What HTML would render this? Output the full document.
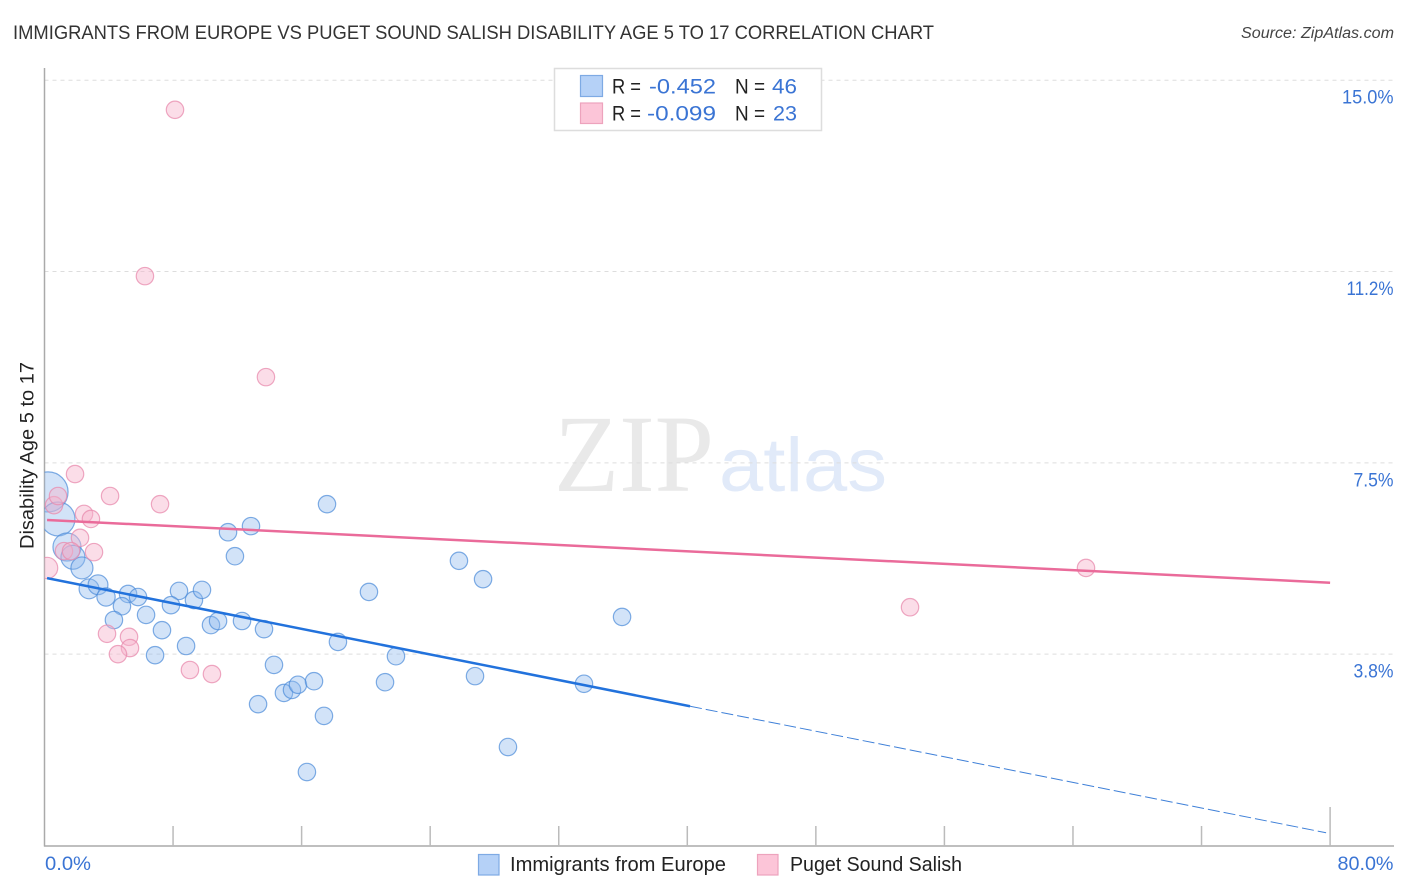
<!DOCTYPE html>
<html lang="en">
<head>
<meta charset="utf-8">
<title>Immigrants from Europe vs Puget Sound Salish Disability Age 5 to 17 Correlation Chart</title>
<style>
html,body{margin:0;padding:0;background:#fff;width:1406px;height:892px;overflow:hidden}
svg{display:block;font-family:"Liberation Sans",sans-serif}
</style>
</head>
<body>
<svg id="chart" width="1406" height="892" viewBox="0 0 1406 892" xmlns="http://www.w3.org/2000/svg">
  <defs><clipPath id="plot-clip"><rect x="44.5" y="60" width="1350" height="786"></rect></clipPath></defs>
  <text x="13" y="39" font-size="19.5" fill="#333" textLength="921" lengthAdjust="spacingAndGlyphs">IMMIGRANTS FROM EUROPE VS PUGET SOUND SALISH DISABILITY AGE 5 TO 17 CORRELATION CHART</text>
  <text x="1241" y="38" font-size="15.5" font-style="italic" fill="#444" textLength="153" lengthAdjust="spacingAndGlyphs">Source: ZipAtlas.com</text>
  <text x="554" y="491" font-family="'Liberation Serif',serif" font-size="110" fill="#e9e9e9" textLength="160" lengthAdjust="spacingAndGlyphs">ZIP</text>
  <text x="719" y="491" font-size="76" fill="#e1eaf9" textLength="168" lengthAdjust="spacingAndGlyphs">atlas</text>
  <g id="grid"></g>
  <g id="axes"></g>
  <g id="points" clip-path="url(#plot-clip)"></g>
  <g id="trends"></g>
  <text transform="translate(33.5 455.5) rotate(-90)" font-size="19" fill="#222" text-anchor="middle" textLength="187" lengthAdjust="spacingAndGlyphs">Disability Age 5 to 17</text>
  <g>
    <rect x="554.5" y="68.5" width="267" height="62" fill="#fff" stroke="#ddd" stroke-width="1.5"></rect>
    <rect x="580.5" y="75.5" width="22" height="21" fill="#b5d1f7" stroke="#7eaae4" stroke-width="1.2"></rect>
    <rect x="580.5" y="103" width="22" height="20.5" fill="#fcc5d8" stroke="#eda3bd" stroke-width="1.2"></rect>
    <g font-size="21" fill="#222">
      <text x="612" y="93.5" textLength="29" lengthAdjust="spacingAndGlyphs">R =</text>
      <text x="649" y="93.5" textLength="67" lengthAdjust="spacingAndGlyphs" fill="#3a74d4">-0.452</text>
      <text x="735" y="93.5" textLength="30" lengthAdjust="spacingAndGlyphs">N =</text>
      <text x="772" y="93.5" textLength="25" lengthAdjust="spacingAndGlyphs" fill="#3a74d4">46</text>
      <text x="612" y="120.5" textLength="29" lengthAdjust="spacingAndGlyphs">R =</text>
      <text x="647" y="120.5" textLength="69" lengthAdjust="spacingAndGlyphs" fill="#3a74d4">-0.099</text>
      <text x="735" y="120.5" textLength="30" lengthAdjust="spacingAndGlyphs">N =</text>
      <text x="773" y="120.5" textLength="24" lengthAdjust="spacingAndGlyphs" fill="#3a74d4">23</text>
    </g>
  </g>
  <g>
    <rect x="478.5" y="854.5" width="20.5" height="20.5" fill="#b5d1f7" stroke="#7eaae4" stroke-width="1.2"></rect>
    <text x="510" y="871" font-size="20" fill="#222" textLength="216" lengthAdjust="spacingAndGlyphs">Immigrants from Europe</text>
  </g>
  <g>
    <rect x="757.5" y="854.5" width="20.5" height="20.5" fill="#fcc5d8" stroke="#eda3bd" stroke-width="1.2"></rect>
    <text x="790" y="871" font-size="20" fill="#222" textLength="172" lengthAdjust="spacingAndGlyphs">Puget Sound Salish</text>
  </g>
</svg>
<script>
const yTickValues = [15, 11.25, 7.5, 3.75];
const yTickLabels = ["15.0%", "11.2%", "7.5%", "3.8%"];
const xTickValues = [0, 8, 16, 24, 32, 40, 48, 56, 64, 72, 80];
const xEndLabels = ["0.0%", "80.0%"];

const europeX = [0.22,0.84,1.40,1.77,2.33,2.77,3.33,3.83,5.20,4.82,5.82,4.32,6.32,7.31,6.88,8.37,7.87,9.30,9.80,8.81,10.36,10.80,12.29,13.66,11.42,12.85,11.85,14.28,13.29,14.90,15.40,15.77,16.77,17.39,16.33,18.26,17.58,20.19,21.87,21.19,25.79,27.29,26.79,28.84,35.94,33.57];
const europeY = [6.93,6.40,5.85,5.65,5.44,5.03,5.11,4.87,4.93,4.69,4.87,4.42,4.52,4.22,3.73,4.99,4.71,4.81,5.01,3.91,4.32,4.40,4.40,4.24,6.14,6.26,5.67,3.54,2.77,2.99,3.05,3.15,3.22,2.54,1.44,3.99,6.69,4.97,3.71,3.20,5.58,5.22,3.32,1.93,4.48,3.17];
const europeWeight = [5.3,3.8,2.6,1.9,1.6,1.3,1.3,1.1,1,1,1,1,1,1,1,1,1,1,1,1,1,1,1,1,1,1,1,1,1,1,1,1,1,1,1,1,1,1,1,1,1,1,1,1,1,1];

const salishX = [0.16,1.90,0.59,0.84,4.08,7.19,2.46,2.89,2.21,3.08,1.21,1.65,3.89,5.26,5.32,4.57,9.05,10.42,6.25,8.12,13.78,53.86,64.81];
const salishY = [5.44,7.28,6.67,6.85,6.85,6.69,6.50,6.40,6.03,5.75,5.77,5.77,4.15,4.09,3.87,3.75,3.44,3.36,11.16,14.42,9.18,4.67,5.44];
const salishWeight = [1.5,1,1,1,1,1,1,1,1,1,1,1,1,1,1,1,1,1,1,1,1,1,1];

const europeTrendX = [0.16, 40.17, 79.75];
const europeTrendY = [5.24, 2.73, 0.25];
const salishTrendX = [0.16, 80];
const salishTrendY = [6.38, 5.15];

const NS = "http://www.w3.org/2000/svg";
const xScale = v => 44.5 + v * 16.07;
const yScale = v => 845.5 - v * 51.02;
const radius = w => 8.7 * Math.sqrt(w);

function make(parent, tag, attrs, text) {
  const el = document.createElementNS(NS, tag);
  for (const k in attrs) el.setAttribute(k, attrs[k]);
  if (text !== undefined) el.textContent = text;
  parent.appendChild(el);
  return el;
}

function labelWidth(s) {
  let w = 0;
  for (const ch of s) {
    if (ch === "0") w += 13;
    else if (ch === "1") w += 8.5;
    else if (ch === ".") w += 5;
    else if (ch === "%") w += 15;
    else w += 10;
  }
  return w;
}

const grid = document.getElementById("grid");
const axes = document.getElementById("axes");
const pts = document.getElementById("points");
const trends = document.getElementById("trends");

yTickValues.forEach((v, i) => {
  const line = make(grid, "line", {x1: 44.5, x2: 1393, y1: yScale(v), y2: yScale(v), stroke: "#ddd", "stroke-width": 1, "stroke-dasharray": "4 4"});
  
  
  const w = labelWidth(yTickLabels[i]);
  const label = make(axes, "text", {x: 1393.5 - w, y: yScale(v) + 23.5, "font-size": 19.5, fill: "#3a74d4", textLength: w, lengthAdjust: "spacingAndGlyphs"}, yTickLabels[i]);
  
  
});

const yAxis = make(axes, "line", {x1: 44.5, x2: 44.5, y1: 68, y2: 846.5, stroke: "#aaa", "stroke-width": 1.5});


const xAxis = make(axes, "line", {x1: 44, x2: 1394, y1: 846, y2: 846, stroke: "#aaa", "stroke-width": 1.5});



xTickValues.forEach((v, i) => {
  if (i === 0) return;
  const top = i === xTickValues.length - 1 ? 807 : 826;
  const tick = make(axes, "line", {x1: xScale(v), x2: xScale(v), y1: top, y2: 846, stroke: "#bbb", "stroke-width": 1.5});
  
  
});

const startW = labelWidth(xEndLabels[0]);
const xLabelLeft = make(axes, "text", {x: 45, y: 870, "font-size": 19.5, fill: "#3a74d4", textLength: startW, lengthAdjust: "spacingAndGlyphs"}, xEndLabels[0]);


const endW = labelWidth(xEndLabels[1]);
const xLabelRight = make(axes, "text", {x: 1393.5 - endW, y: 870, "font-size": 19.5, fill: "#3a74d4", textLength: endW, lengthAdjust: "spacingAndGlyphs"}, xEndLabels[1]);



europeX.forEach((v, i) => {
  const c = make(pts, "circle", {cx: xScale(v), cy: yScale(europeY[i]), r: radius(europeWeight[i]), fill: "#8fb9ee", "fill-opacity": 0.4, stroke: "#4a8ad8", "stroke-opacity": 0.7, "stroke-width": 1.2});
  
  
});
salishX.forEach((v, i) => {
  const c = make(pts, "circle", {cx: xScale(v), cy: yScale(salishY[i]), r: radius(salishWeight[i]), fill: "#f7b3cb", "fill-opacity": 0.45, stroke: "#e88bae", "stroke-opacity": 0.75, "stroke-width": 1.2});
  
  
});

const europeSolid = make(trends, "line", {x1: xScale(europeTrendX[0]), y1: yScale(europeTrendY[0]), x2: xScale(europeTrendX[1]), y2: yScale(europeTrendY[1]), stroke: "#2272dc", "stroke-width": 2.5});


const europeDash = make(trends, "line", {x1: xScale(europeTrendX[1]), y1: yScale(europeTrendY[1]), x2: xScale(europeTrendX[2]), y2: yScale(europeTrendY[2]), stroke: "#3f80d8", "stroke-width": 1, "stroke-dasharray": "12 4"});


const salishLine = make(trends, "line", {x1: xScale(salishTrendX[0]), y1: yScale(salishTrendY[0]), x2: xScale(salishTrendX[1]), y2: yScale(salishTrendY[1]), stroke: "#ea6b9a", "stroke-width": 2.5});


</script>
</body>
</html>
